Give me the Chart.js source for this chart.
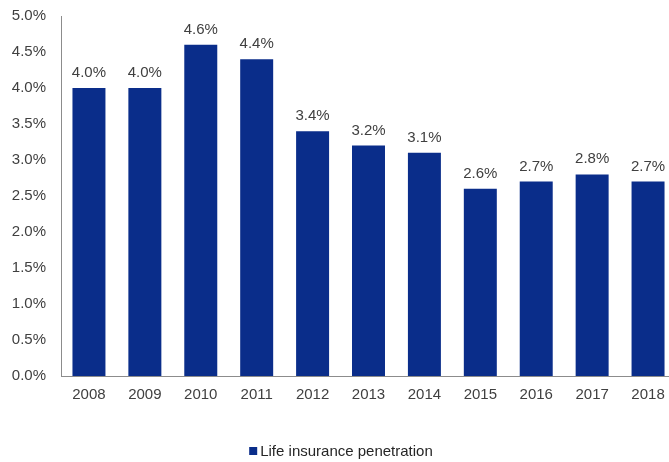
<!DOCTYPE html>
<html>
<head>
<meta charset="utf-8">
<script src="https://cdn.jsdelivr.net/npm/chart.js@4/dist/chart.umd.min.js"></script>
<style>
  html, body { margin: 0; padding: 0; background: #ffffff; overflow: hidden; }
  #wrap { width: 688px; height: 462px; position: relative; }
</style>
</head>
<body>
<div id="wrap"><canvas id="chart"></canvas></div>
<script>
const years = ['2008', '2009', '2010', '2011', '2012', '2013', '2014', '2015', '2016', '2017', '2018'];
const penetration = [4.0, 4.0, 4.6, 4.4, 3.4, 3.2, 3.1, 2.6, 2.7, 2.8, 2.7];
const seriesName = 'Life insurance penetration';
const yTicks = [0, 0.5, 1.0, 1.5, 2.0, 2.5, 3.0, 3.5, 4.0, 4.5, 5.0];

const barColor = '#0a2d8a';
const textColor = '#404040';
const fontFamily = '"Liberation Sans", Arial, sans-serif';
const fontSize = 15;

// Value labels written above each bar
const valueLabels = {
  id: 'valueLabels',
  afterDatasetsDraw(chart) {
    const ctx = chart.ctx;
    const meta = chart.getDatasetMeta(0);
    ctx.save();
    ctx.fillStyle = textColor;
    ctx.font = fontSize + 'px ' + fontFamily;
    ctx.textAlign = 'center';
    ctx.textBaseline = 'alphabetic';
    meta.data.forEach((bar, i) => {
      ctx.fillText(penetration[i].toFixed(1) + '%', bar.x, bar.y - 11);
    });
    ctx.restore();
  }
};

// Compact legend: small square marker followed closely by the series name
const compactLegend = {
  id: 'compactLegend',
  afterDraw(chart) {
    const ctx = chart.ctx;
    ctx.save();
    ctx.font = fontSize + 'px ' + fontFamily;
    const box = 8, gap = 3;
    const textW = ctx.measureText(seriesName).width;
    const start = (chart.width - (box + gap + textW)) / 2 - 3;
    const cy = 451;
    ctx.fillStyle = barColor;
    ctx.fillRect(start, cy - box / 2, box, box);
    ctx.fillStyle = '#262626';
    ctx.textAlign = 'left';
    ctx.textBaseline = 'middle';
    ctx.fillText(seriesName, start + box + gap, cy + 1);
    ctx.restore();
  }
};

new Chart(document.getElementById('chart'), {
  type: 'bar',
  data: {
    labels: years,
    datasets: [{
      label: seriesName,
      data: penetration,
      backgroundColor: barColor,
      borderWidth: 0,
      barPercentage: 0.59,
      categoryPercentage: 1.0
    }]
  },
  options: {
    responsive: true,
    maintainAspectRatio: false,
    animation: false,
    layout: { padding: { top: 16, right: 12, left: 0, bottom: 48 } },
    scales: {
      x: {
        grid: { display: false, drawTicks: false },
        border: { display: true, color: '#8c8c8c', width: 1 },
        ticks: { color: textColor, font: { size: fontSize, family: fontFamily }, padding: 10 }
      },
      y: {
        min: 0,
        max: 5,
        afterBuildTicks(scale) { scale.ticks = yTicks.map(v => ({ value: v })); },
        afterFit(scale) {
          scale.width = 61;
          scale.paddingTop = 0;
          scale.paddingBottom = 0;
        },
        grid: { display: false, drawTicks: false },
        border: { display: true, color: '#8c8c8c', width: 1 },
        ticks: {
          color: textColor,
          font: { size: fontSize, family: fontFamily },
          padding: 15,
          callback: v => Number(v).toFixed(1) + '%'
        }
      }
    },
    plugins: {
      legend: { display: false },
      tooltip: { enabled: false }
    }
  },
  plugins: [valueLabels, compactLegend]
});
</script>
</body>
</html>
